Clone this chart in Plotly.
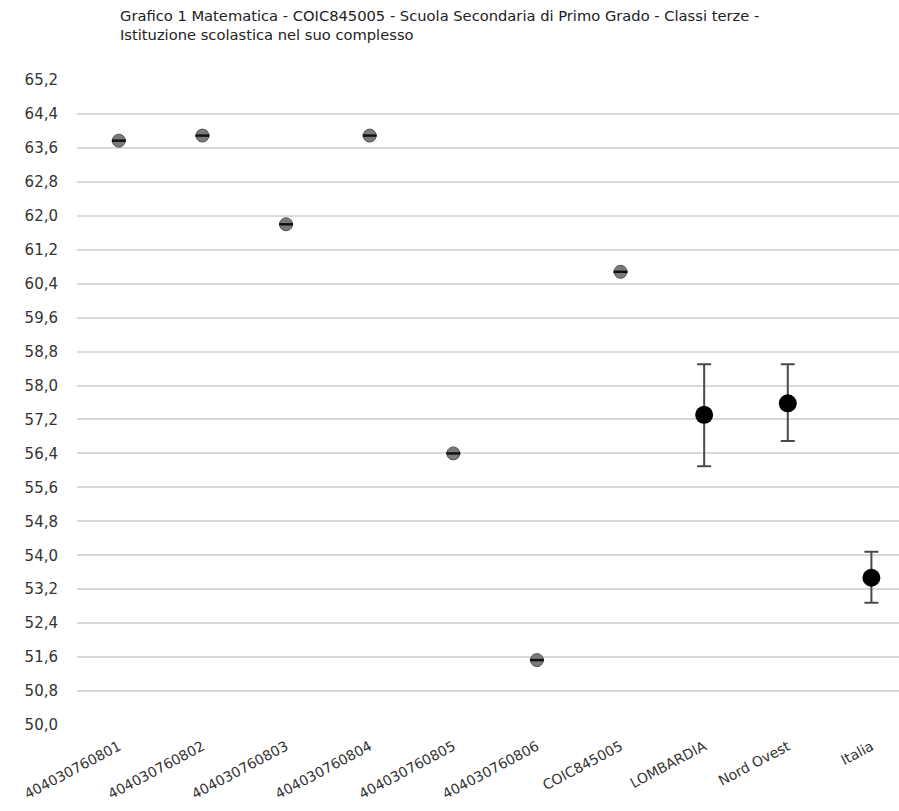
import plotly.graph_objects as go

categories = ["404030760801", "404030760802", "404030760803", "404030760804",
              "404030760805", "404030760806", "COIC845005", "LOMBARDIA",
              "Nord Ovest", "Italia"]

class_cats = categories[:7]
class_vals = [63.77, 63.89, 61.80, 63.89, 56.40, 51.53, 60.68]

ref_cats = categories[7:]
ref_vals = [57.31, 57.58, 53.47]
ref_upper = [58.50, 58.50, 54.08]
ref_lower = [56.10, 56.69, 52.88]

y_ticks = [50.0, 50.8, 51.6, 52.4, 53.2, 54.0, 54.8, 55.6, 56.4, 57.2, 58.0,
           58.8, 59.6, 60.4, 61.2, 62.0, 62.8, 63.6, 64.4, 65.2]

title_text = ("Grafico 1 Matematica - COIC845005 - Scuola Secondaria di Primo Grado - Classi terze -"
              "<br>Istituzione scolastica nel suo complesso")

fig = go.Figure()

fig.add_trace(go.Scatter(
    x=class_cats, y=class_vals, mode="markers",
    marker=dict(size=13, color="#7a7a7a", line=dict(color="#555555", width=1)),
    showlegend=False, hoverinfo="x+y",
))
# horizontal bar through each class marker (zero-length error bar look)
fig.add_trace(go.Scatter(
    x=class_cats, y=class_vals, mode="markers",
    marker=dict(symbol="line-ew", size=10, line=dict(color="#111111", width=2.5)),
    showlegend=False, hoverinfo="skip",
))

fig.add_trace(go.Scatter(
    x=ref_cats, y=ref_vals, mode="markers",
    marker=dict(size=18, color="#000000"),
    error_y=dict(type="data", symmetric=False,
                 array=[u - v for u, v in zip(ref_upper, ref_vals)],
                 arrayminus=[v - l for v, l in zip(ref_vals, ref_lower)],
                 color="#4a4a4a", thickness=2, width=7),
    showlegend=False, hoverinfo="x+y",
))

fig.update_layout(
    width=899, height=811,
    margin=dict(l=77, r=0, t=80, b=86),
    paper_bgcolor="white", plot_bgcolor="white",
    separators=",.",
    font=dict(family="DejaVu Sans", color="#333333", size=13),
    xaxis=dict(type="category", categoryorder="array", categoryarray=categories,
               range=[-0.5, 9.33], showgrid=False, showline=False, zeroline=False,
               tickangle=-28, tickfont=dict(size=14, color="#333333"),
               ticklabelstandoff=10),
    yaxis=dict(range=[50.0, 65.2], tickvals=y_ticks, tickformat=".1f",
               showgrid=True, gridcolor="#d9d9d9", gridwidth=2,
               zeroline=False, showline=False,
               tickfont=dict(size=15, color="#333333"),
               ticklabelstandoff=18),
    annotations=[dict(text=title_text, xref="paper", yref="paper",
                      x=(118 - 77) / 822, xanchor="left",
                      y=1 + (80 - 5) / 645, yanchor="top", align="left",
                      showarrow=False,
                      font=dict(family="DejaVu Sans", size=14.7, color="#222222"))],
)

fig.write_html("out.html", config={"displayModeBar": False},
               post_script="document.body.style.margin='0';")
